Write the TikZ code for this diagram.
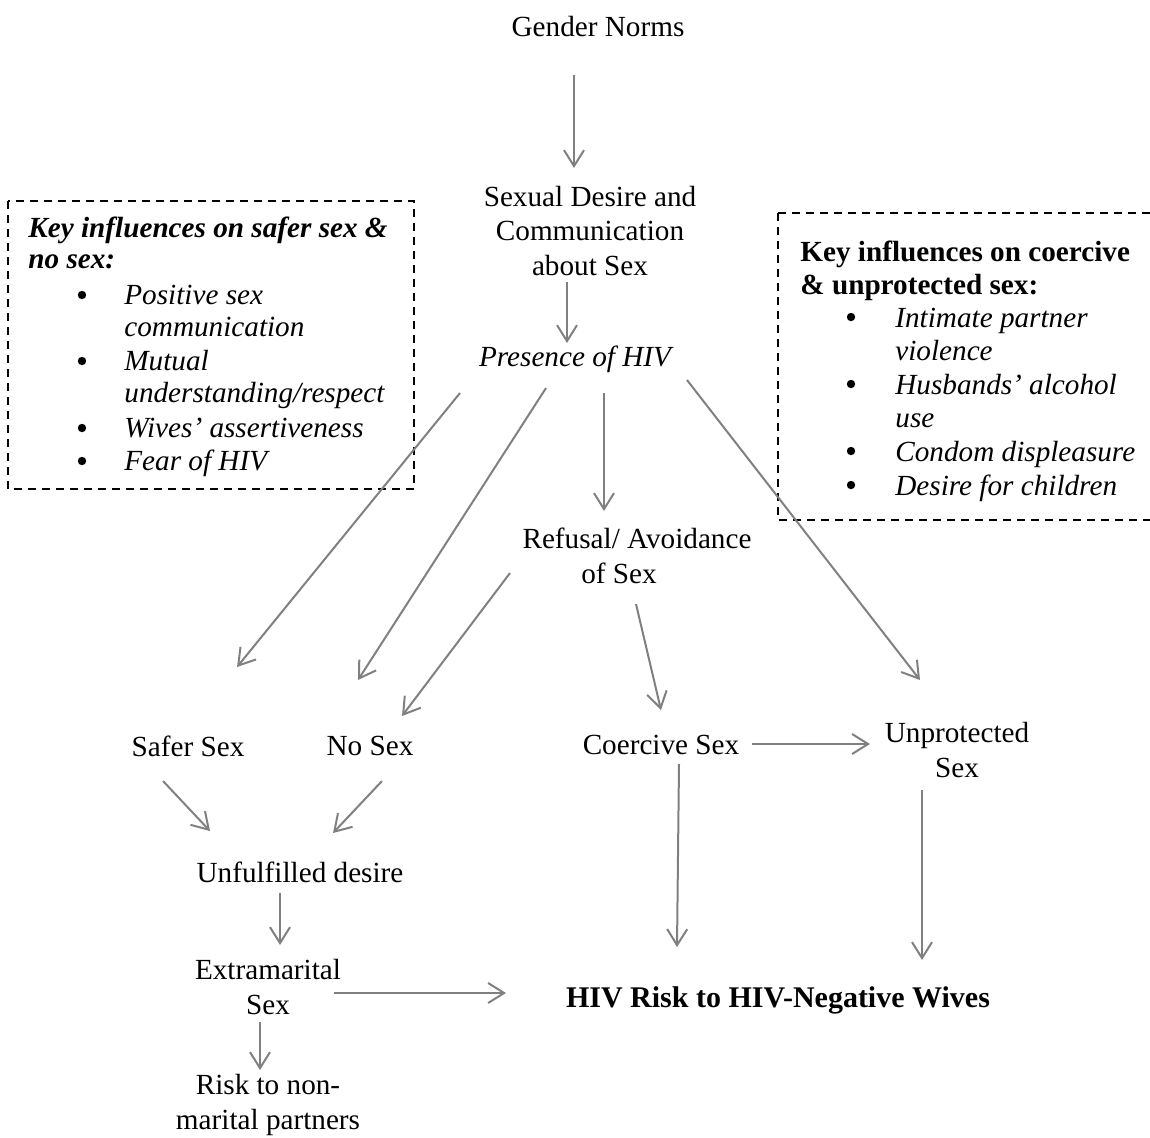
\documentclass[tikz,border=0pt]{standalone}
\usepackage{fontspec}
\setmainfont{Liberation Serif}
\usetikzlibrary{arrows.meta}
\definecolor{arrgray}{RGB}{128,128,128}
\begin{document}
\begin{tikzpicture}[x=0.5pt,y=-0.5pt,
  every node/.style={font=\fontsize{14.6}{17.2}\selectfont, inner sep=0pt},
  lbl/.style={align=center},
  arr/.style={draw=arrgray, line width=1pt, -{Straight Barb[length=8pt,width=10pt,line width=1pt]}},
  dbox/.style={draw=black, line width=0.7pt, dash pattern=on 4pt off 3pt},
  ln/.style={anchor=base west},
  bul/.style={circle, fill=black, minimum size=4.2pt, inner sep=0pt}]
\useasboundingbox (0,0) rectangle (1150,1137);

% dashed boxes
\draw[dbox] (8,201) rectangle (414,489);
\draw[dbox] (778,213) -- (1150,213);
\draw[dbox] (778,213) -- (778,520) -- (1150,520);

% left box text
\node[ln] (l1) at (28,237) {\bfseries\itshape Key influences on safer sex \&};
\node[ln] (l2) at (28,268) {\bfseries\itshape no sex:};
\node[bul] (lb1) at (82,295) {};
\node[ln] (l3) at (124,304) {\itshape Positive sex};
\node[ln] (l4) at (124,336) {\itshape communication};
\node[bul] (lb2) at (82,361) {};
\node[ln] (l5) at (124,370) {\itshape Mutual};
\node[ln] (l6) at (124,402) {\itshape understanding/respect};
\node[bul] (lb3) at (82,428) {};
\node[ln] (l7) at (124,437) {\itshape Wives’ assertiveness};
\node[bul] (lb4) at (82,461) {};
\node[ln] (l8) at (124,470) {\itshape Fear of HIV};

% right box text
\node[ln] (r1) at (800,261) {\bfseries Key influences on coercive};
\node[ln] (r2) at (800,294) {\bfseries \& unprotected sex:};
\node[bul] (rb1) at (851,317) {};
\node[ln] (r3) at (895,327) {\itshape Intimate partner};
\node[ln] (r4) at (895,360) {\itshape violence};
\node[bul] (rb2) at (851,384) {};
\node[ln] (r5) at (895,394) {\itshape Husbands’ alcohol};
\node[ln] (r6) at (895,427) {\itshape use};
\node[bul] (rb3) at (851,451) {};
\node[ln] (r7) at (895,461) {\itshape Condom displeasure};
\node[bul] (rb4) at (851,485) {};
\node[ln] (r8) at (895,495) {\itshape Desire for children};

% flow nodes
\node[lbl] (gn) at (598,27) {Gender Norms};
\node[lbl] (sd) at (590,231) {Sexual Desire and\\Communication\\about Sex};
\node[lbl] (ph) at (575,359) {\itshape Presence of HIV};
\node[lbl] (ref) at (637,556) {Refusal/ Avoidance\\of Sex\hspace*{18pt}};
\node (ss) at (188,746) {Safer Sex};
\node (ns) at (370,746) {No Sex};
\node (cs) at (661,745) {Coercive Sex};
\node[lbl] (up) at (957,750) {Unprotected\\Sex};
\node (ud) at (300,872) {Unfulfilled desire};
\node[lbl] (em) at (268,987) {Extramarital\\Sex};
\node[lbl] (rn) at (268,1105) {Risk to non-\\marital partners};
\node (hiv) at (778,1000) {\fontsize{15}{18}\selectfont\bfseries HIV Risk to HIV-Negative Wives};

% connector end points
\coordinate (a1s) at (574,75);   \coordinate (a1e) at (574,168);
\coordinate (a2s) at (567,282);  \coordinate (a2e) at (567,343);
\coordinate (a3s) at (460,393);  \coordinate (a3e) at (237,667);
\coordinate (a4s) at (546,388);  \coordinate (a4e) at (358,680);
\coordinate (a5s) at (604,393);  \coordinate (a5e) at (604,511);
\coordinate (a6s) at (687,380);  \coordinate (a6e) at (920,680);
\coordinate (a7s) at (510,573);  \coordinate (a7e) at (402,716);
\coordinate (a8s) at (636,604);  \coordinate (a8e) at (661,710);
\coordinate (a9s) at (752,744);  \coordinate (a9e) at (870,744);
\coordinate (a10s) at (163,781); \coordinate (a10e) at (210,831);
\coordinate (a11s) at (382,781); \coordinate (a11e) at (333,833);
\coordinate (a12s) at (280,893); \coordinate (a12e) at (280,945);
\coordinate (a13s) at (334,993); \coordinate (a13e) at (506,993);
\coordinate (a14s) at (679,764); \coordinate (a14e) at (677,947);
\coordinate (a15s) at (922,790); \coordinate (a15e) at (922,960);
\coordinate (a16s) at (260,1022);\coordinate (a16e) at (260,1070);

\foreach \i in {1,...,16} {\draw[arr] (a\i s) -- (a\i e);}
\end{tikzpicture}
\end{document}
